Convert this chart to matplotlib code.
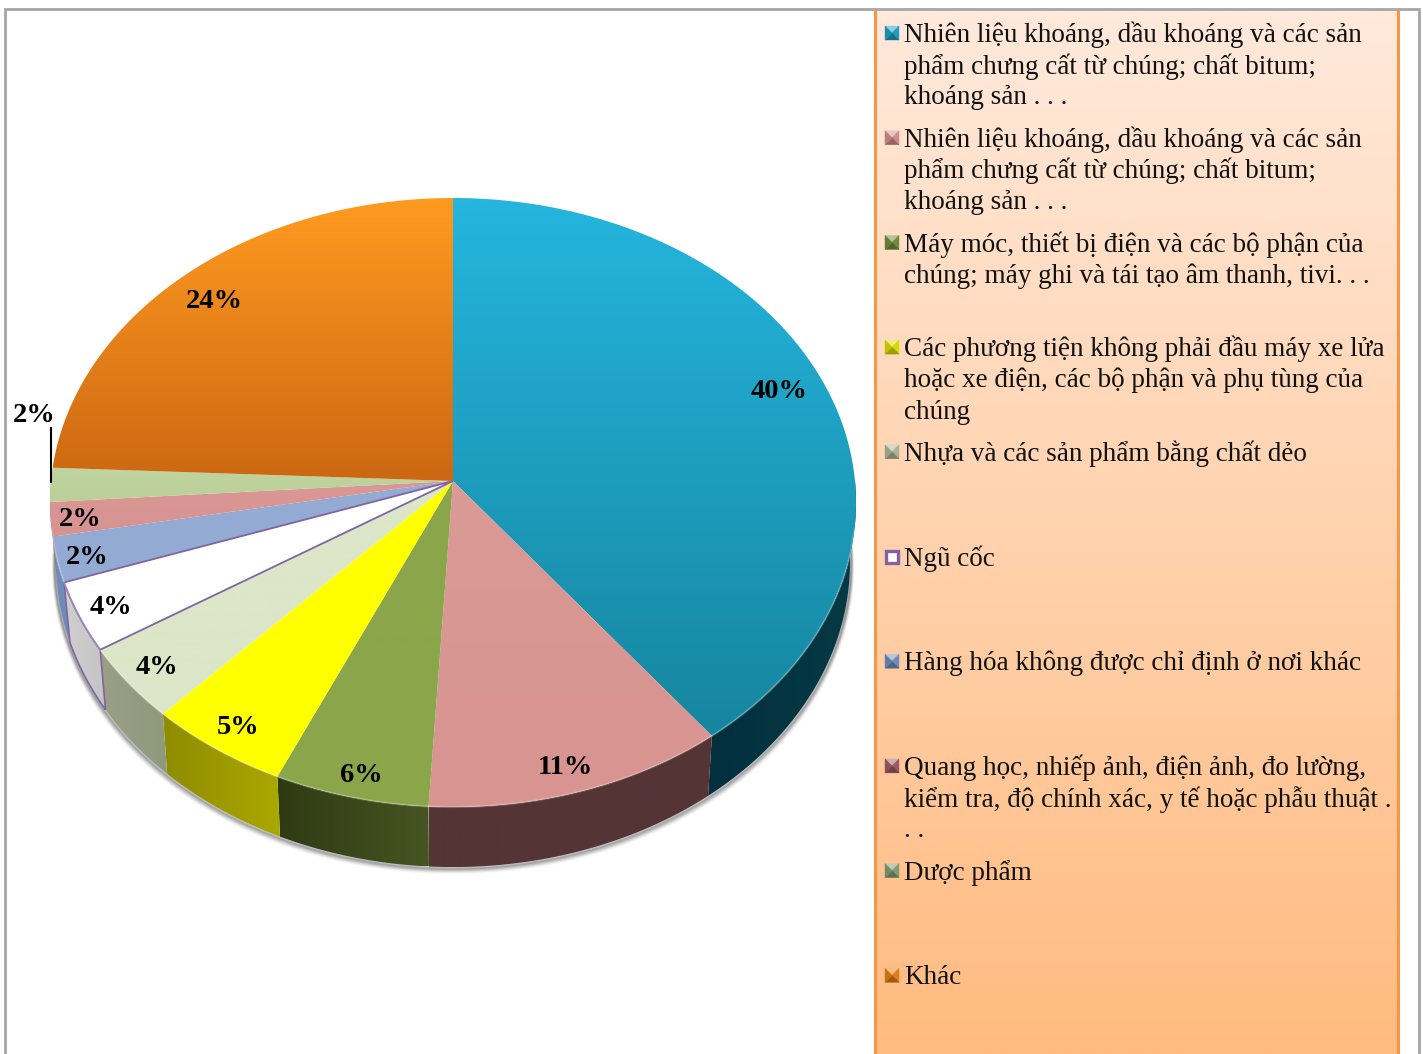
import numpy as np
import matplotlib
matplotlib.use("Agg")
import matplotlib.pyplot as plt
from matplotlib.colors import to_rgb
from matplotlib.patches import Polygon, Rectangle

W, H = 1423, 1054

# slice shares
values = [39.6, 11.3, 5.8, 5.3, 4.0, 3.7, 2.4, 1.8, 1.8, 24.3]
pct_labels = ["40%", "11%", "6%", "5%", "4%", "4%", "2%", "2%", "2%", "24%"]
legend_labels = [
	"Nhiên liệu khoáng, dầu khoáng và các sản\nphẩm chưng cất từ chúng; chất bitum;\nkhoáng sản . . .",
	"Nhiên liệu khoáng, dầu khoáng và các sản\nphẩm chưng cất từ chúng; chất bitum;\nkhoáng sản . . .",
	"Máy móc, thiết bị điện và các bộ phận của\nchúng; máy ghi và tái tạo âm thanh, tivi. . .",
	"Các phương tiện không phải đầu máy xe lửa\nhoặc xe điện, các bộ phận và phụ tùng của\nchúng",
	"Nhựa và các sản phẩm bằng chất dẻo",
	"Ngũ cốc",
	"Hàng hóa không được chỉ định ở nơi khác",
	"Quang học, nhiếp ảnh, điện ảnh, đo lường,\nkiểm tra, độ chính xác, y tế hoặc phẫu thuật .\n. .",
	"Dược phẩm",
	"Khác",
]

# colours: top of the slice (gradient start, end), then side (start, end)
top_a = ["#25B5DE", "#DA9A96", "#8BA64A", "#FFFF00", "#DCE6C8", "#FFFFFF", "#93ABD3", "#DA9794", "#BFD49E", "#FF9A20"]
top_b = ["#16869F", "#D89491", "#8BA64A", "#FFFF00", "#DCE6C8", "#FFFFFF", "#93ABD3", "#D69391", "#BCCF9A", "#CC6812"]
side_a = ["#02303E", "#553436", "#2F3A12", "#8F8C00", "#9A9F86", "#CFCFCF", "#6F8BB8", "#A87370", "#8FA070", "#A85A10"]
side_b = ["#053A44", "#553436", "#465522", "#ABA800", "#8F9A7C", "#C4C4C4", "#6F8BB8", "#A87370", "#8FA070", "#A85A10"]
key_cols = ["#1F9DBE", "#D08C8A", "#6E8A3A", "#D8D800", "#A8B494", "#FFFFFF", "#6F8BB8", "#9A5A60", "#7E9A70", "#E07E12"]

# pie geometry in pixels
cx, cy = 453, 481
k, c, m = 303.0, 0.0707, 402.0
depth = 60
shrink = 0.985


def project(theta):
	# theta clockwise from 12 o'clock, flat circle to the tilted view
	x = np.sin(theta)
	y = np.cos(theta)
	d = 1 + c * y
	return cx + m * x / d, cy - k * y / d


def gradient_fill(ax, pts, col_a, col_b, horizontal=False, z=2):
	pts = np.asarray(pts)
	x0, x1 = pts[:, 0].min(), pts[:, 0].max()
	y0, y1 = pts[:, 1].min(), pts[:, 1].max()
	t = np.linspace(0, 1, 64)
	a, b = np.array(to_rgb(col_a)), np.array(to_rgb(col_b))
	img = a[None, :] * (1 - t)[:, None] + b[None, :] * t[:, None]
	img = img[None, :, :] if horizontal else img[:, None, :]
	patch = Polygon(pts, closed=True, transform=ax.transData, fc="none", ec="none")
	ax.add_patch(patch)
	im = ax.imshow(img, extent=(x0, x1, y1, y0), aspect="auto", zorder=z, interpolation="bilinear")
	im.set_clip_path(patch)


fig = plt.figure(figsize=(W / 100, H / 100), dpi=100)
ax = fig.add_axes([0, 0, 1, 1])
ax.axis("off")
plt.rcParams["font.family"] = ["Liberation Serif", "DejaVu Serif"]

# outer frame
ax.add_patch(Rectangle((5, 9), 1414, 1100, fc="white", ec="#A6A6A6", lw=2, zorder=0))

# angles
edges = np.cumsum([0] + values) / sum(values) * 2 * np.pi

# soft shadow under the rim
vis = np.linspace(np.pi * 0.5, np.pi * 1.5, 240)
sx, sy = project(vis)
sx2 = cx + (sx - cx) * shrink
for off, al in [(5, 0.05), (4, 0.08), (3, 0.12), (2, 0.18), (1, 0.25)]:
	ax.plot(sx2 + np.sign(sx2 - cx) * off * 0.5, sy + depth + off, color="#404040", alpha=al, lw=2.5, zorder=1,
		solid_capstyle="round")

# side walls, only the front half shows
for i in range(len(values)):
	a0, a1 = max(edges[i], np.pi * 0.5), min(edges[i + 1], np.pi * 1.5)
	if a1 <= a0:
		continue
	t = np.linspace(a0, a1, 80)
	x, y = project(t)
	x2 = cx + (x - cx) * shrink
	pts = np.vstack([np.c_[x, y], np.c_[x2, y + depth][::-1]])
	gradient_fill(ax, pts, side_a[i], side_b[i], horizontal=True, z=2 + i * 0.01)
	if i == 5:
		ax.add_patch(Polygon(pts, closed=True, fc="none", ec="#8064A2", lw=1.2, zorder=2.5))

# top faces
for i in range(len(values)):
	t = np.linspace(edges[i], edges[i + 1], 120)
	x, y = project(t)
	pts = np.vstack([[cx, cy], np.c_[x, y]])
	gradient_fill(ax, pts, top_a[i], top_b[i], z=3 + i * 0.01)
	if i == 5:
		ax.add_patch(Polygon(pts, closed=True, fc="none", ec="#8064A2", lw=1.3, zorder=3.5))

# light bevel along the front of the rim
fx, fy = project(np.linspace(np.pi * 0.55, np.pi * 1.45, 200))
ax.plot(fx, fy, color="white", alpha=0.22, lw=1.5, zorder=3.6)

# percent labels
label_xy = [(779, 392), (565, 768), (361, 775), (238, 728), (157, 667), (111, 607), (87, 557), (80, 519), (34, 416), (214, 301)]
for s, (lx, ly) in zip(pct_labels, label_xy):
	ax.text(lx, ly, s, ha="center", va="center", fontsize=20.5, fontweight="bold", color="black", zorder=5)
ax.plot([51, 51], [428, 482], color="black", lw=1.5, zorder=5)

# legend panel
px0, px1, py0, py1 = 875, 1398, 11, 1060
gradient_fill(ax, [(px0, py0), (px1, py0), (px1, py1), (px0, py1)], "#FFE9DB", "#FFBB80", z=1)
ax.plot([px0, px0], [py0, py1], color="#F79646", lw=2.2, zorder=1.5)
ax.plot([px1, px1], [py0, py1], color="#F79646", lw=2.2, zorder=1.5)

row_h = 104.7
for i, (lab, col) in enumerate(zip(legend_labels, key_cols)):
	y_txt = 35 + i * row_h
	for j, line in enumerate(lab.split("\n")):
		ax.text(904, y_txt + j * 31.5, line, ha="left", va="center", fontsize=19.55, color="#111111", zorder=5)
	# bevelled key
	s = 7
	kx, ky = 892, y_txt - 2
	base = np.array(to_rgb(col))
	if i == 5:
		ax.add_patch(Rectangle((kx - s + 1, ky - s + 1), 2 * s - 2, 2 * s - 2, fc="white", ec="#8064A2", lw=2.4, zorder=6))
		continue
	corners = [(kx - s, ky - s), (kx + s, ky - s), (kx + s, ky + s), (kx - s, ky + s)]
	shades = [base * 0.5 + 0.5, base, base * 0.72, base * 0.9]
	for q in range(4):
		tri = [corners[q], corners[(q + 1) % 4], (kx, ky)]
		ax.add_patch(Polygon(tri, closed=True, fc=shades[q], ec=shades[q], lw=0.3, zorder=6))

ax.set_xlim(0, W)
ax.set_ylim(H, 0)
fig.savefig("out.png", dpi=100)
